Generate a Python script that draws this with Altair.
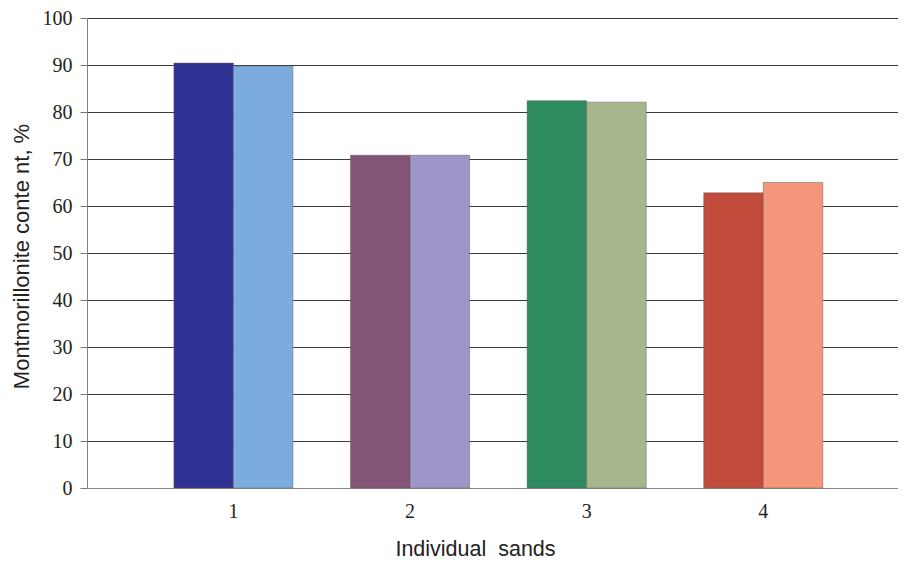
import altair as alt
import pandas as pd

sands = ["1", "1", "2", "2", "3", "3", "4", "4"]
series = ["a", "b", "a", "b", "a", "b", "a", "b"]
values = [90.4, 89.8, 70.8, 70.8, 82.4, 82.1, 62.8, 65.0]
keys = ["1a", "1b", "2a", "2b", "3a", "3b", "4a", "4b"]
colors = ["#2E3192", "#7BACDD", "#845477", "#9E95C9",
          "#2E8B5F", "#A7B68D", "#C24C3B", "#F5967A"]

df = pd.DataFrame({"sand": sands, "series": series, "value": values, "key": keys})

bars = alt.Chart(df).mark_bar(stroke="#5a5a5a", strokeWidth=0.6, strokeOpacity=0.8).encode(
    x=alt.X("sand:N", title="Individual\u00a0 sands",
            scale=alt.Scale(paddingInner=0.326, paddingOuter=0.459, align=0.536),
            axis=alt.Axis(labelAngle=0, ticks=False, labelFont="Liberation Serif",
                          labelFontSize=20, labelColor="#222", labelPadding=13,
                          domainColor="#8a8a8a", domainWidth=1,
                          titleFont="Liberation Sans", titleFontSize=21.5,
                          titleFontWeight="normal", titleColor="#222",
                          titleX=388, titleY=61, titleBaseline="middle")),
    xOffset=alt.XOffset("series:N", scale=alt.Scale(paddingInner=0, paddingOuter=0)),
    y=alt.Y("value:Q", title="Montmorillonite conte nt, %",
            scale=alt.Scale(domain=[0, 100], nice=False),
            axis=alt.Axis(values=list(range(0, 101, 10)), labelFont="Liberation Serif",
                          labelFontSize=20, labelColor="#222", labelPadding=8,
                          tickSize=7, tickColor="#777", domainColor="#808080",
                          gridColor={"condition": {"test": "datum.value === 0", "value": "#8a8a8a"},
                                     "value": "#3a3a3a"},
                          gridWidth=1.2,
                          titleFont="Liberation Sans", titleFontSize=22,
                          titleFontWeight="normal", titleColor="#222",
                          titleAngle=270, titleBaseline="middle", titleAlign="center",
                          titleX=-66, titleY=238)),
    color=alt.Color("key:N", scale=alt.Scale(domain=keys, range=colors), legend=None),
)

chart = bars.properties(
    width=811, height=470,
    autosize=alt.AutoSizeParams(type="none"),
    padding={"left": 79, "top": 10, "right": 0, "bottom": 74},
).configure_view(stroke=None).configure(background="white")

chart.save("out.html", embed_options={"renderer": "svg", "actions": False})
